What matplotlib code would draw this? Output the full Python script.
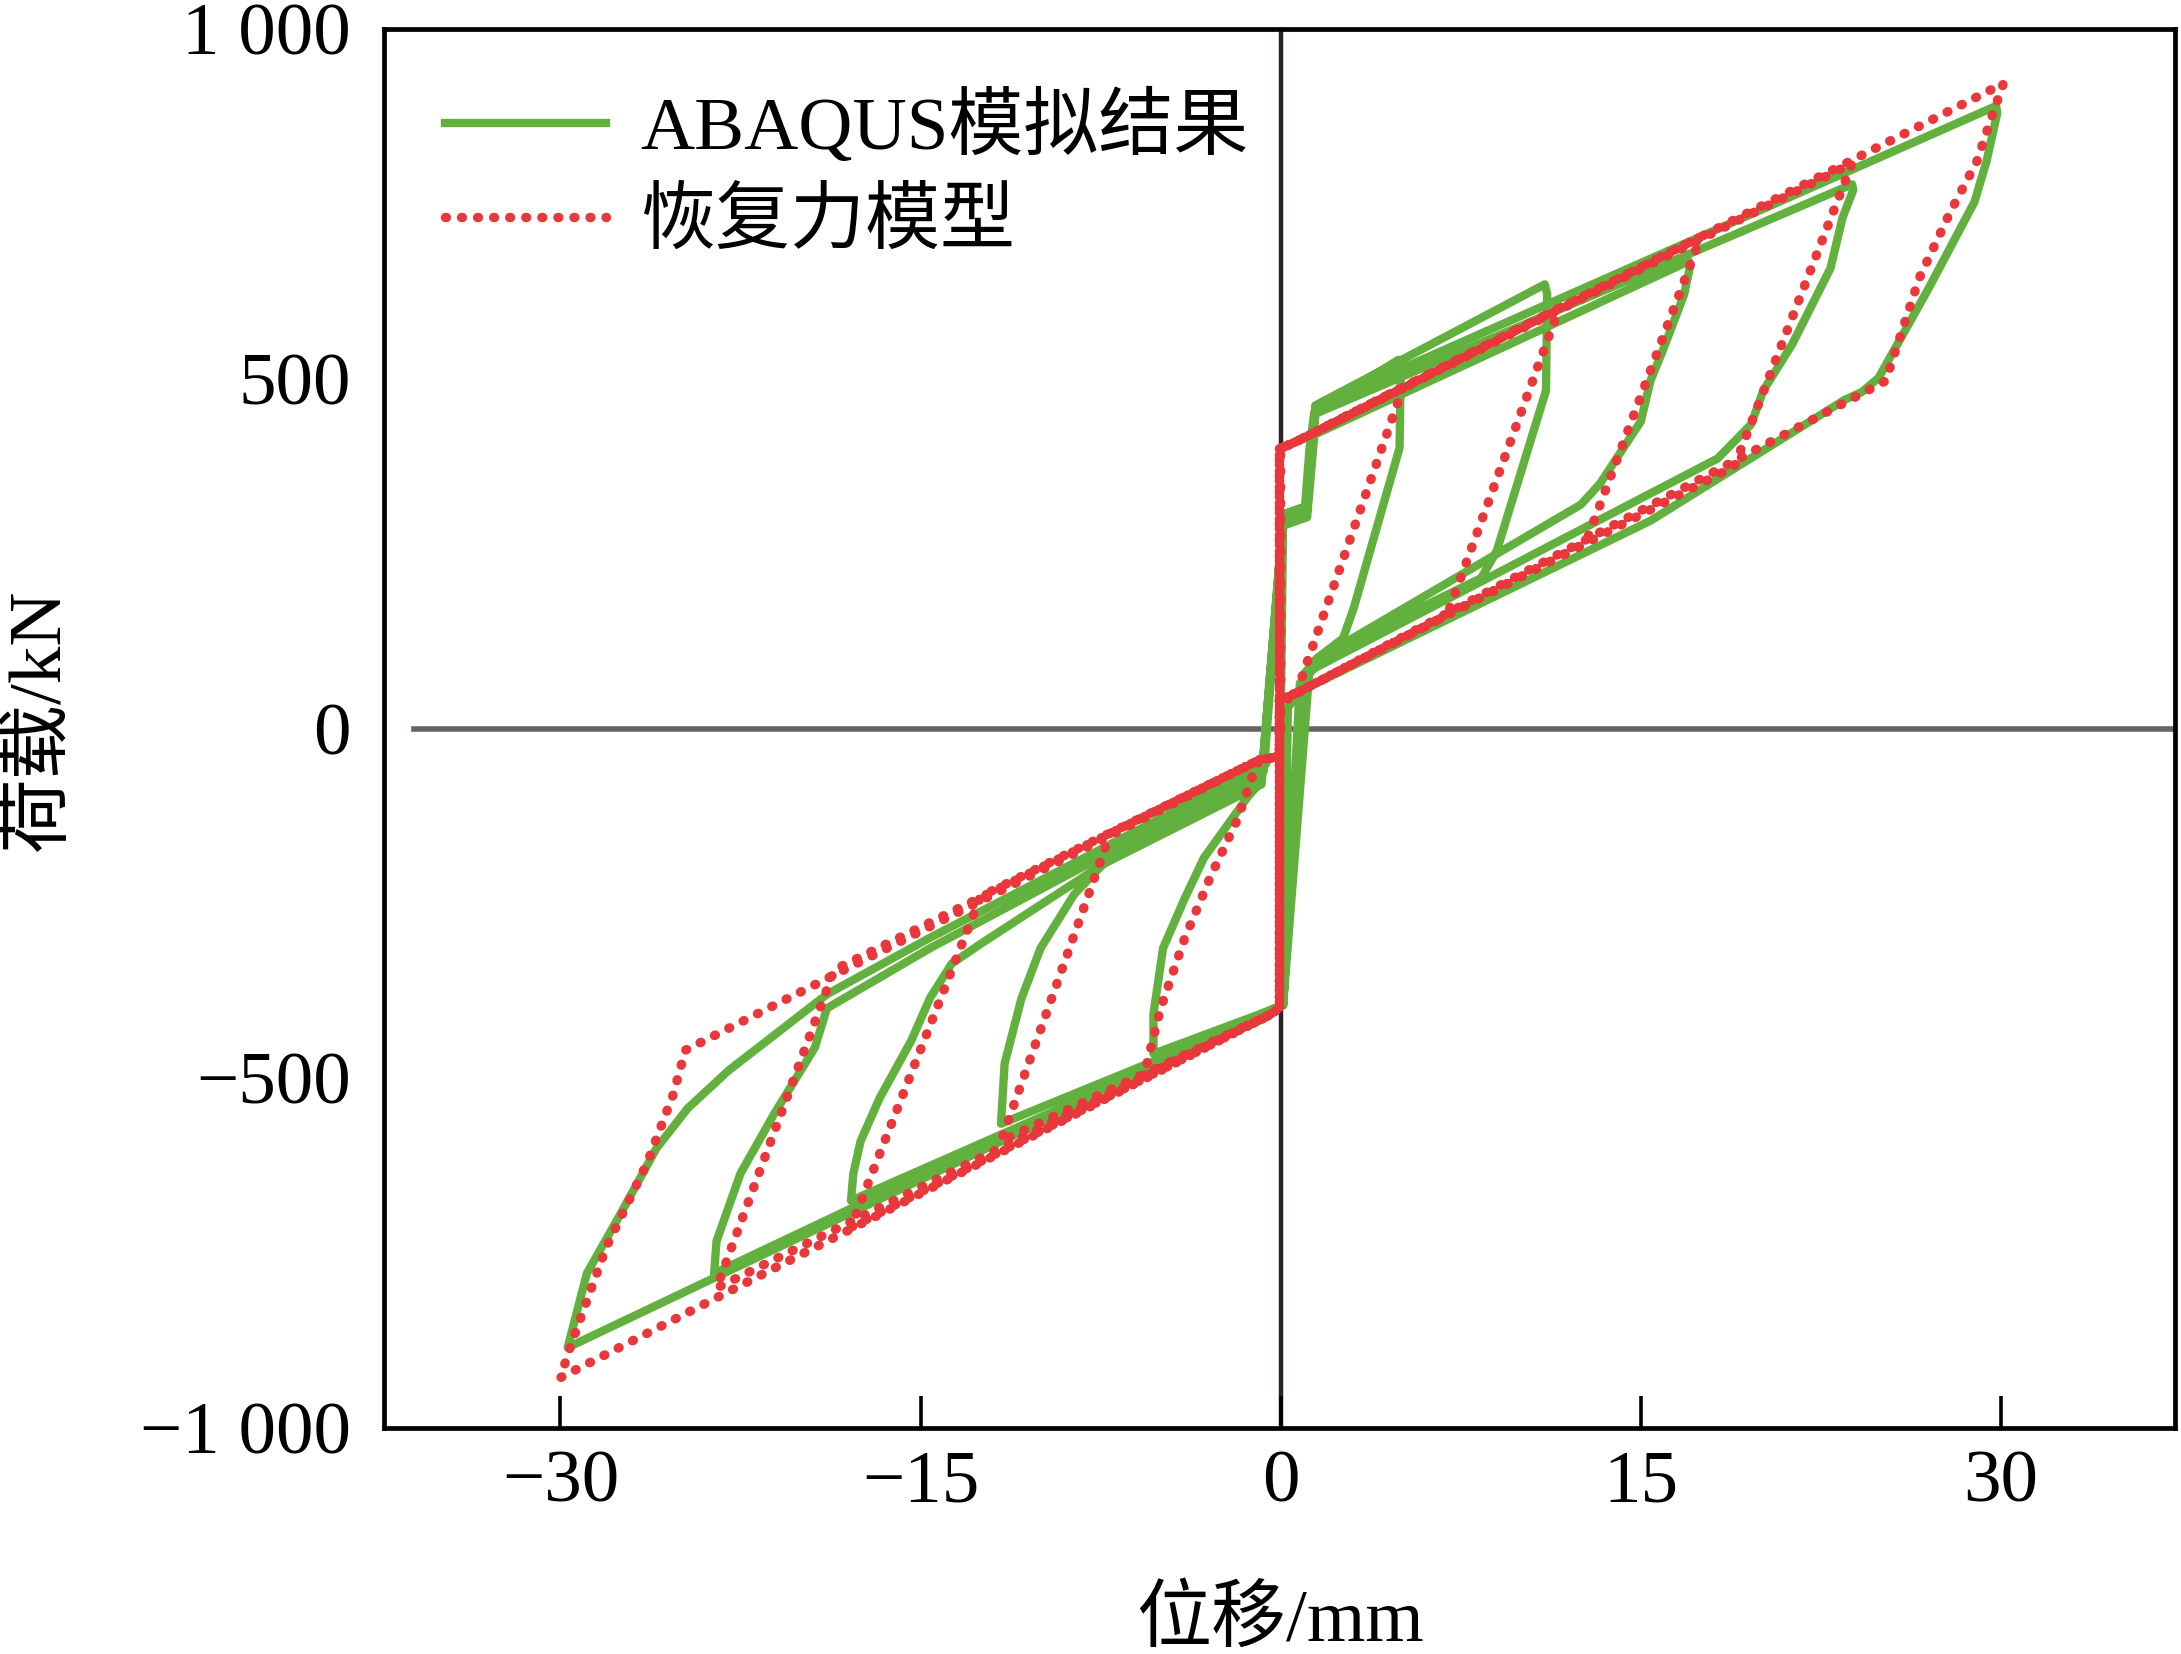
import matplotlib
matplotlib.use("Agg")
import matplotlib.pyplot as plt
from matplotlib.lines import Line2D

plt.rcParams['font.family'] = ['Liberation Serif', 'Noto Sans CJK SC', 'DejaVu Sans']

# ---------------- data (displacement mm, load kN) ----------------
green_disp = [
    0.0, 0.1, 1.0, 1.2, 1.4, 4.9, 5.0, 4.95, 3.05, 2.6, 1.5, 0.9, 0.1, -0.6,
    -5.3, -5.3, -4.9, -4.0, -3.2, -1.4, -0.8,
    0.1, 1.1, 1.3, 1.45, 11.0, 11.1, 11.05, 9.0, 8.35, 1.5, 0.9, 0.1, -0.6,
    -11.65, -11.5, -10.8, -10.0, -8.6, -7.4, -0.8,
    0.1, 1.1, 1.3, 1.4, 17.0, 17.05, 16.8, 15.9, 15.4, 15.0, 13.3, 12.5, 2.1, 1.2, 0.1, -0.7,
    -17.9, -17.8, -17.5, -16.7, -15.4, -14.6, -13.7, -12.5, -7.0, -0.8,
    0.1, 1.1, 1.3, 1.45, 23.8, 23.85, 23.4, 22.9, 21.3, 20.1, 19.6, 18.2, 15.4, 1.4, 0.8, 0.1, -0.6,
    -23.6, -23.5, -22.5, -21.1, -19.4, -18.9, -14.6, -0.7,
    0.1, 1.1, 1.3, 1.45, 29.8, 29.85, 29.4, 28.9, 27.0, 24.9, 24.2, 23.5, 15.4, 0.85, 0.3, 0.1, -0.6,
    -29.7, -28.9, -27.5, -26.0, -24.7, -23.0, -18.9, -14.6, -0.6,
]
green_load = [
    0, 300, 312, 400, 452, 527, 515, 401, 173, 129, 100, 75, -395, -405,
    -465, -408, -314, -243, -185, -99, -75,
    306, 318, 402, 462, 635, 621, 483, 254, 215, 100, 70, -395, -410,
    -565, -479, -386, -314, -237, -194, -80,
    290, 302, 380, 420, 668, 660, 620, 539, 497, 439, 350, 320, 111, 85, -395, -415,
    -675, -636, -590, -528, -447, -385, -336, -308, -185, -70,
    300, 312, 400, 450, 778, 770, 730, 658, 549, 483, 435, 386, 336, 86, 65, -395, -405,
    -779, -733, -636, -551, -456, -400, -314, -60,
    306, 318, 400, 460, 890, 880, 811, 753, 630, 501, 481, 470, 297, 54, 30, -395, -410,
    -885, -779, -694, -600, -543, -489, -380, -299, -50,
]

red_disp = [
    0.0, 0.0, 0.7, 5.1, 0.85, 0.75, -0.05, -0.05, -0.5,
    -5.7, -5.0, -4.0, -2.9, -1.8, -1.1, -0.9, -0.05, -0.05, 0.7,
    11.6, 6.93, 0.85, -0.05, -0.05, -0.5,
    -11.65, -7.1, -0.9, -0.05, -0.05, 0.7,
    17.5, 12.7, 0.85, -0.05, -0.05, -0.5,
    -17.9, -12.5, -0.9, -0.05, -0.05, 0.7,
    23.8, 18.9, 0.85, -0.05, -0.05, -0.5,
    -23.5, -18.6, -0.9, -0.05, -0.05, 0.7,
    30.1, 29.6, 29.0, 27.9, 26.6, 25.2, 0.85, -0.05, -0.05, -0.5,
    -30.0, -29.6, -28.1, -26.4, -25.3, -24.8, -0.9, -0.05, -0.05,
]
red_load = [
    0, 400, 411, 488, 70, 45, 40, -400, -410,
    -497, -400, -300, -210, -130, -60, -45, -40, 400, 411,
    601, 162, 54, 40, -400, -410,
    -590, -150, -45, -40, 400, 411,
    703, 265, 54, 40, -400, -410,
    -713, -240, -45, -40, 400, 411,
    808, 375, 54, 40, -400, -410,
    -800, -345, -45, -40, 400, 411,
    922, 873, 811, 739, 644, 497, 54, 40, -400, -410,
    -928, -885, -742, -622, -523, -460, -45, -40, 0,
]

x_ticks = [-30, -15, 0, 15, 30]
x_tick_labels = ['\u221230', '\u221215', '0', '15', '30']
y_ticks = [-1000, -500, 0, 500, 1000]
y_tick_labels = ['\u22121 000', '\u2212500', '0', '500', '1 000']
legend_labels = ['ABAQUS模拟结果', '恢复力模型']
x_label = '位移/mm'
y_label = '荷载/kN'

GREEN = '#62b03e'
RED = '#e8383b'
RED_DOTS = (0, (0.1, 1.6))

# ---------------- figure ----------------
W, H, DPI = 2181, 1654, 200
fig = plt.figure(figsize=(W / DPI, H / DPI), dpi=DPI)
ax = fig.add_axes([384 / W, 1 - 1428 / H, (2175 - 384) / W, (1428 - 29) / H])
ax.set_xlim(-37.35, 37.25)
ax.set_ylim(-1000, 1000)

ax.axhline(0, xmin=0.0168, xmax=1, color='#6b6262', lw=2.0, zorder=1)
ax.axvline(0, color='#2b2424', lw=1.6, zorder=1)

ax.plot(green_disp, green_load, color=GREEN, lw=3.0, solid_joinstyle='round',
        solid_capstyle='round', zorder=3)
ax.plot(red_disp, red_load, color=RED, lw=3.4, linestyle=RED_DOTS,
        dash_capstyle='round', zorder=4)

for s in ax.spines.values():
    s.set_linewidth(1.7)
    s.set_color('black')

ax.set_xticks(x_ticks)
ax.set_xticklabels(x_tick_labels)
ax.set_yticks(y_ticks)
ax.set_yticklabels(y_tick_labels)
ax.tick_params(axis='x', direction='in', length=11.5, width=1.3, pad=8,
               labelsize=27)
ax.tick_params(axis='y', direction='in', length=0, width=1.3, pad=12,
               labelsize=27)
for lab in ax.get_xticklabels() + ax.get_yticklabels():
    lab.set_family('Liberation Serif')

fig.text(1280 / W, 1 - 1622 / H, x_label, ha='center', va='center',
         fontsize=27, family=['Liberation Serif', 'Noto Sans CJK SC'])
fig.text(40 / W, 1 - 720 / H, y_label, ha='center', va='center', rotation=90,
         fontsize=27, family=['Liberation Serif', 'Noto Sans CJK SC'])

handles = [
    Line2D([], [], color=GREEN, lw=3.0),
    Line2D([], [], color=RED, lw=3.4, linestyle=RED_DOTS, dash_capstyle='round'),
]
leg = ax.legend(handles, legend_labels, loc='upper left',
                bbox_to_anchor=(445 / W, 1 - 90 / H), bbox_transform=fig.transFigure,
                frameon=False, borderpad=0, borderaxespad=0,
                handlelength=2.15, handletextpad=0.45, labelspacing=0.33,
                prop={'family': ['Liberation Serif', 'Noto Sans CJK SC'], 'size': 27})

fig.savefig('out.png', dpi=DPI)
